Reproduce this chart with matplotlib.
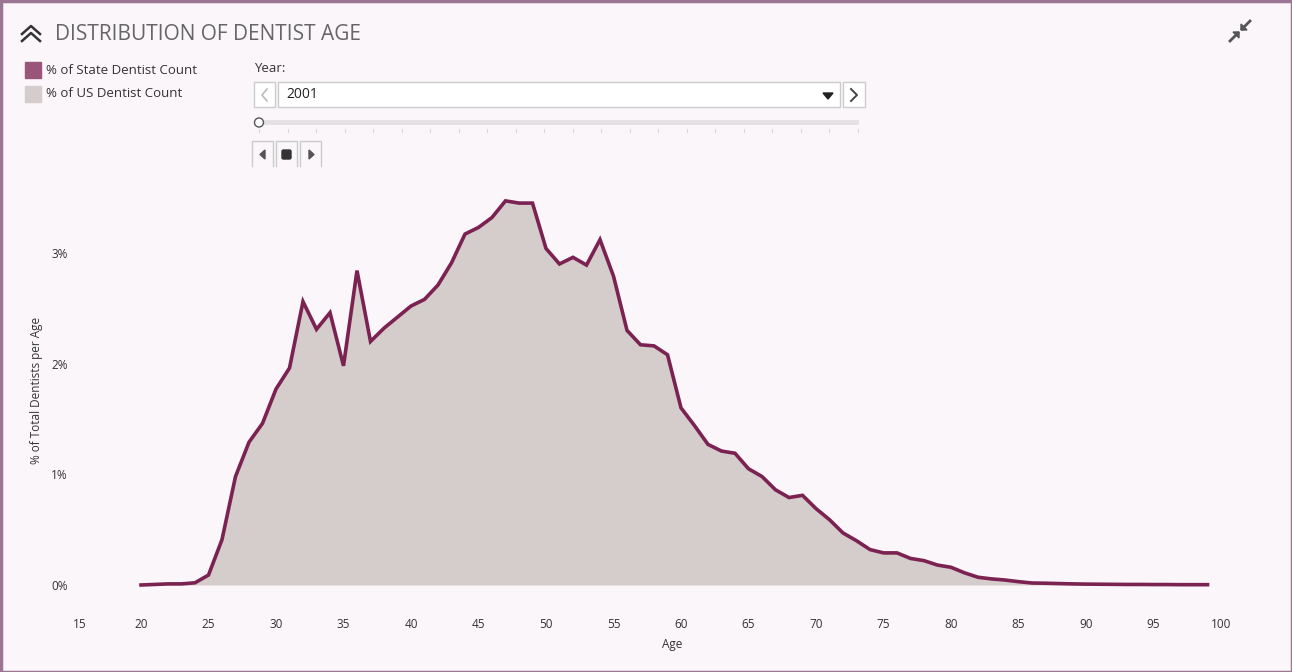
import matplotlib.pyplot as plt
import matplotlib.patches as mpatches
import matplotlib.transforms as mtransforms
import numpy as np

# % of dentists by age, year 2001
ages = list(range(20, 100))
us_pct = [
    0.00, 0.005, 0.01, 0.01, 0.02, 0.09, 0.41, 0.98, 1.29, 1.46,
    1.77, 1.96, 2.56, 2.31, 2.46, 1.98, 2.84, 2.20, 2.32, 2.42,
    2.52, 2.58, 2.71, 2.91, 3.17, 3.23, 3.32, 3.47, 3.45, 3.45,
    3.04, 2.90, 2.96, 2.89, 3.12, 2.79, 2.30, 2.17, 2.16, 2.08,
    1.60, 1.44, 1.27, 1.21, 1.19, 1.05, 0.98, 0.86, 0.79, 0.81,
    0.69, 0.59, 0.47, 0.40, 0.32, 0.29, 0.29, 0.24, 0.22, 0.18,
    0.16, 0.11, 0.07, 0.055, 0.045, 0.03, 0.018, 0.016, 0.013, 0.01,
    0.008, 0.007, 0.006, 0.005, 0.005, 0.004, 0.004, 0.003, 0.003, 0.003,
]
state_pct = list(us_pct)  # selected state = all states here

x_ticks = list(range(15, 101, 5))
y_ticks = [0, 1, 2, 3]
year = "2001"

W, H = 1292, 672
bg = "#faf6fa"
line_col = "#7b2252"
fill_col = "#d5cdcb"
txt = "#333333"
font = ["Open Sans", "DejaVu Sans"]

fig = plt.figure(figsize=(W / 100, H / 100), dpi=100, facecolor=bg)

# main plot, placed in pixel terms (20 -> 141px, 100 -> 1221px)
px_l, px_r = 73.5, 1221
px_top, px_bot = 190, 590
ax = fig.add_axes([px_l / W, 1 - px_bot / H, (px_r - px_l) / W, (px_bot - px_top) / H])
ax.set_facecolor(bg)
ax.fill_between(ages, us_pct, 0, color=fill_col, lw=0)
ax.plot(ages, state_pct, color=line_col, lw=2.6, solid_joinstyle="miter")
ax.set_xlim(15, 100)
ax.set_ylim(-(px_bot - 585) / 110.7, (585 - px_top) / 110.7)
ax.set_xticks(x_ticks)
ax.set_yticks(y_ticks)
ax.set_yticklabels([f"{v}%" for v in y_ticks])
for s in ax.spines.values():
    s.set_visible(False)
ax.tick_params(length=0, colors=txt, labelsize=8.5)
ax.tick_params(axis="x", pad=20)
ax.tick_params(axis="y", pad=4)
for lab in ax.get_xticklabels() + ax.get_yticklabels():
    lab.set_family(font)
# first age label sits a bit inside the pane
first = ax.get_xticklabels()[0]
first.set_transform(first.get_transform() + mtransforms.ScaledTranslation(6 / 100, 0, fig.dpi_scale_trans))
ax.set_xlabel("Age", fontsize=8.5, color=txt, family=font, labelpad=5)
ax.xaxis.label.set_x(0.522)
ax.set_ylabel("% of Total Dentists per Age", fontsize=8.5, color=txt, family=font, labelpad=6)

# overlay for the header widgets
ov = fig.add_axes([0, 0, 1, 1], zorder=-1)
ov.set_xlim(0, W)
ov.set_ylim(H, 0)
ov.axis("off")
ov.patch.set_alpha(0)

ov.add_patch(mpatches.Rectangle((0.5, 0.5), W - 1, H - 1, fill=False, ec="#9b7593", lw=2.5))

# collapse chevrons
for dy in (0, 7):
    ov.plot([22, 31, 40], [34 + dy, 26 + dy, 34 + dy], color="#333333", lw=1.8)
ov.text(55, 34, "DISTRIBUTION OF DENTIST AGE", fontsize=15, color="#666666",
        family=font, va="center", ha="left")

# minimize icon
ov.plot([1230, 1238], [41, 33], color="#555555", lw=2)
ov.plot([1242, 1250], [29, 21], color="#555555", lw=2)
ov.add_patch(mpatches.Polygon([[1239, 32], [1233, 32], [1239, 38]], color="#555555"))
ov.add_patch(mpatches.Polygon([[1241, 30], [1247, 30], [1241, 24]], color="#555555"))

# legend
legend_items = ["% of State Dentist Count", "% of US Dentist Count"]
legend_cols = ["#99557a", fill_col]
for i, (lab, c) in enumerate(zip(legend_items, legend_cols)):
    y = 70 + i * 23.5
    ov.add_patch(mpatches.Rectangle((25, y - 8), 16, 16, color=c))
    ov.text(46, y, lab, fontsize=9.5, color=txt, family=font, va="center")

# year selector
ov.text(254, 68, "Year:", fontsize=9.5, color=txt, family=font, va="center")
box_ec = "#cccccc"
ov.add_patch(mpatches.Rectangle((254, 82), 21, 25, fc="white", ec=box_ec, lw=1))
ov.add_patch(mpatches.Rectangle((278, 82), 562, 25, fc="white", ec=box_ec, lw=1))
ov.add_patch(mpatches.Rectangle((843, 82), 22, 25, fc="white", ec=box_ec, lw=1))
ov.plot([267, 262, 267], [89, 95, 101], color="#bbbbbb", lw=1.2)
ov.plot([851, 857, 851], [89, 95, 101], color="#444444", lw=1.4)
ov.text(286, 94.5, year, fontsize=10, color="#222222", family=font, va="center")
ov.add_patch(mpatches.Polygon([[823, 93], [833, 93], [828, 99]], color="#222222"))

# slider
ov.add_patch(mpatches.Rectangle((259, 120), 600, 5, color="#e4e2e4", lw=0))
for tx in np.linspace(259, 858, 22):
    ov.plot([tx, tx], [129, 132], color="#d8d8d8", lw=0.8)
ov.add_patch(mpatches.Circle((259, 122.5), 4.5, fc="white", ec="#555555", lw=1))

# playback buttons
for bx in (252, 276, 300):
    ov.plot([bx, bx, bx + 21, bx + 21], [166, 141, 141, 166], color="#cccccc", lw=1)
ov.add_patch(mpatches.Polygon([[265, 150], [265, 159], [260, 154.5]], color="#555555"))
ov.add_patch(mpatches.FancyBboxPatch((282, 150), 9, 9, boxstyle="round,pad=0,rounding_size=1.5",
                                     color="#333333"))
ov.add_patch(mpatches.Polygon([[309, 150], [309, 159], [314, 154.5]], color="#555555"))

fig.savefig("out.png", dpi=100, facecolor=bg)
